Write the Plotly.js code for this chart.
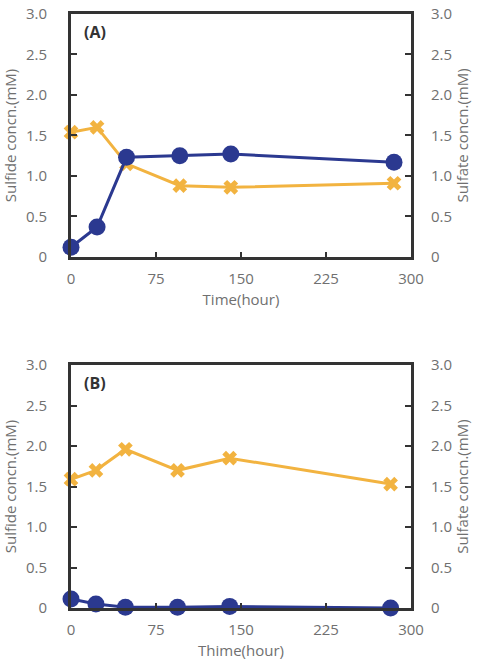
<!DOCTYPE html>
<html>
<head>
<meta charset="utf-8">
<script src="https://cdn.plot.ly/plotly-3.0.1.min.js"></script>
<style>html,body{margin:0;padding:0;background:#fff;}#chart{width:480px;height:666px;}</style>
</head>
<body>
<div id="chart"></div>
<script>
// Panel A
const timeA = [0, 23, 49, 96, 141, 285];
const sulfideA = [0.12, 0.37, 1.23, 1.25, 1.27, 1.17];
const sulfateA = [1.54, 1.60, 1.15, 0.88, 0.86, 0.91];
// Panel B
const timeB = [0, 22, 48, 94, 140, 282];
const sulfideB = [0.11, 0.05, 0.01, 0.01, 0.02, 0.0];
const sulfateB = [1.59, 1.70, 1.96, 1.70, 1.85, 1.53];

const xTicks = [0, 75, 150, 225, 300];
const yTickVals = [0, 0.5, 1, 1.5, 2, 2.5, 3];
const yTickText = ['0', '0.5', '1.0', '1.5', '2.0', '2.5', '3.0'];
const panelLabels = ['(A)', '(B)'];
const xTitles = ['Time(hour)', 'Thime(hour)'];
const leftTitle = 'Sulfide concn.(mM)';
const rightTitle = 'Sulfate concn.(mM)';

const BLUE = '#2B3990';
const ORANGE = '#F2B340';
const FRAME = '#333333';
const TXT = '#707070';
const FONT = 'Open Sans, Noto Sans, sans-serif';

function sulfateTrace(x, y, xa, ya) {
  return {x: x, y: y, xaxis: xa, yaxis: ya, type: 'scatter', mode: 'lines+markers',
    line: {color: ORANGE, width: 3},
    marker: {symbol: 'x', size: 13, color: ORANGE},
    cliponaxis: false, showlegend: false};
}
function sulfideTrace(x, y, xa, ya) {
  return {x: x, y: y, xaxis: xa, yaxis: ya, type: 'scatter', mode: 'lines+markers',
    line: {color: BLUE, width: 3},
    marker: {symbol: 'circle', size: 17, color: BLUE},
    cliponaxis: false, showlegend: false};
}

const data = [
  sulfateTrace(timeA, sulfateA, 'x', 'y'),
  sulfideTrace(timeA, sulfideA, 'x', 'y2'),
  sulfateTrace(timeB, sulfateB, 'x2', 'y3'),
  sulfideTrace(timeB, sulfideB, 'x2', 'y4')
];

function xAxis(anchor, title) {
  return {anchor: anchor, domain: [0, 1], range: [0, 300], tickvals: xTicks,
    ticks: 'inside', ticklen: 5, tickwidth: 2, tickcolor: FRAME,
    showline: true, mirror: true, linewidth: 3, linecolor: FRAME,
    showgrid: false, zeroline: false, ticklabelstandoff: 6,
    tickfont: {family: FONT, size: 15, color: TXT},
    title: {text: title, font: {family: FONT, size: 15, color: TXT}, standoff: 8}};
}
function rightAxis(domain, anchor) {
  return {domain: domain, anchor: anchor, side: 'right', range: [0, 3],
    tickvals: yTickVals, ticktext: yTickText,
    ticks: 'inside', ticklen: 6, tickwidth: 2, tickcolor: FRAME,
    showline: true, mirror: true, linewidth: 3, linecolor: FRAME,
    showgrid: false, zeroline: false, ticklabelstandoff: 14,
    tickfont: {family: FONT, size: 15, color: TXT},
    title: {text: rightTitle, font: {family: FONT, size: 15, color: TXT}, standoff: 6}};
}
function leftAxis(over, anchor) {
  return {overlaying: over, anchor: anchor, side: 'left', range: [0, 3],
    tickvals: yTickVals, ticktext: yTickText,
    ticks: 'inside', ticklen: 6, tickwidth: 2, tickcolor: FRAME,
    showline: true, linewidth: 3, linecolor: FRAME,
    showgrid: false, zeroline: false, ticklabelstandoff: 18,
    tickfont: {family: FONT, size: 15, color: TXT},
    title: {text: leftTitle, font: {family: FONT, size: 15, color: TXT}, standoff: 9}};
}

const layout = {
  width: 480, height: 666,
  margin: {l: 71, r: 69, t: 14, b: 58},
  paper_bgcolor: '#ffffff', plot_bgcolor: '#ffffff',
  showlegend: false,
  xaxis: xAxis('y', xTitles[0]),
  yaxis: rightAxis([0.591, 1], 'x'),
  yaxis2: leftAxis('y', 'x'),
  xaxis2: xAxis('y3', xTitles[1]),
  yaxis3: rightAxis([0, 0.409], 'x2'),
  yaxis4: leftAxis('y3', 'x2'),
  annotations: [
    {text: '<b>' + panelLabels[0] + '</b>', xref: 'x', yref: 'y', x: 10, y: 2.78,
     xanchor: 'left', yanchor: 'middle', showarrow: false,
     font: {family: FONT, size: 16, color: '#333333'}},
    {text: '<b>' + panelLabels[1] + '</b>', xref: 'x2', yref: 'y3', x: 10, y: 2.78,
     xanchor: 'left', yanchor: 'middle', showarrow: false,
     font: {family: FONT, size: 16, color: '#333333'}}
  ]
};

Plotly.newPlot('chart', data, layout, {staticPlot: true, displayModeBar: false});
</script>
</body>
</html>
